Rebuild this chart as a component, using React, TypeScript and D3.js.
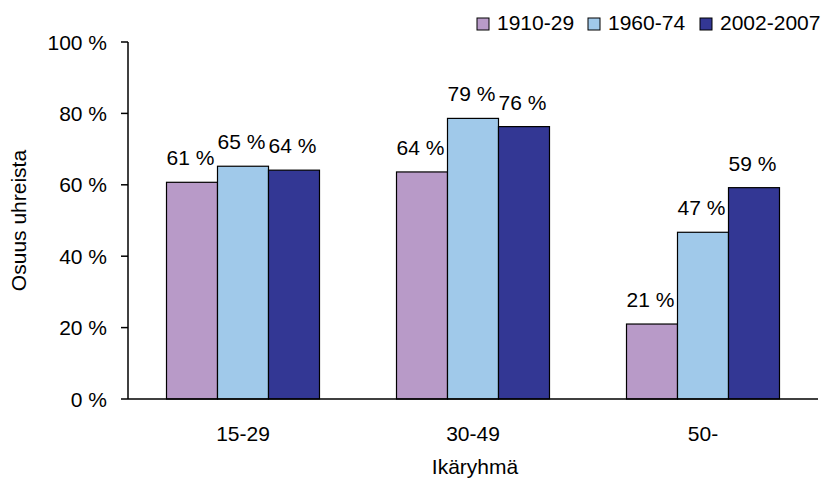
import React from "react";
import * as d3 from "d3";

const categories = ["15-29", "30-49", "50-"];
const seriesNames = ["1910-29", "1960-74", "2002-2007"];
const s1910 = [0.607, 0.636, 0.21];
const s1960 = [0.652, 0.786, 0.467];
const s2002 = [0.641, 0.763, 0.592];
const labels1910 = ["61 %", "64 %", "21 %"];
const labels1960 = ["65 %", "79 %", "47 %"];
const labels2002 = ["64 %", "76 %", "59 %"];
const yTicks = [0, 0.2, 0.4, 0.6, 0.8, 1.0];
const yTickLabels = ["0 %", "20 %", "40 %", "60 %", "80 %", "100 %"];
const colors = ["#B89AC8", "#A0C9EA", "#333794"];

const W = 825;
const H = 479;
const FONT = "'Liberation Sans', Arial, sans-serif";
const FS = 21;

export default function App() {
  const values = [s1910, s1960, s2002];
  const labs = [labels1910, labels1960, labels2002];
  const x0 = d3.scaleBand<string>().domain(categories).range([128, 818]).padding(0);
  const x1 = d3
    .scaleBand<string>()
    .domain(seriesNames)
    .range([0, x0.bandwidth()])
    .paddingInner(0)
    .paddingOuter(0.755);
  const y = d3.scaleLinear().domain([0, 1]).range([399, 42]);

  return (
    <svg
      width={W}
      height={H}
      style={{ position: "absolute", left: 0, top: 0, background: "#fff" }}
      fontFamily={FONT}
    >
      {categories.map((c, ci) => (
        <g key={c}>
          {seriesNames.map((s, si) => {
            const v = values[si][ci];
            const bx = (x0(c) as number) + (x1(s) as number);
            return (
              <g key={s}>
                <rect
                  x={bx}
                  y={y(v)}
                  width={x1.bandwidth()}
                  height={y(0) - y(v)}
                  fill={colors[si]}
                  stroke="#000"
                  strokeWidth={1.2}
                />
                <text
                  x={bx + x1.bandwidth() / 2 - 1.5}
                  y={y(v) - 17}
                  textAnchor="middle"
                  fontSize={FS}
                  fill="#000"
                >
                  {labs[si][ci]}
                </text>
              </g>
            );
          })}
        </g>
      ))}
      <line x1={128} x2={128} y1={y(1)} y2={y(0)} stroke="#000" strokeWidth={1.5} />
      {yTicks.map((t, i) => (
        <g key={t}>
          <line x1={121} x2={128} y1={y(t)} y2={y(t)} stroke="#000" strokeWidth={1.5} />
          <text x={107} y={y(t)} dy="0.36em" textAnchor="end" fontSize={FS}>
            {yTickLabels[i]}
          </text>
        </g>
      ))}
      <line x1={128} x2={818} y1={y(0)} y2={y(0)} stroke="#000" strokeWidth={1.5} />
      {categories.map((c) => (
        <text
          key={c}
          x={(x0(c) as number) + x0.bandwidth() / 2}
          y={441}
          textAnchor="middle"
          fontSize={FS}
        >
          {c}
        </text>
      ))}
      <text x={475} y={474} textAnchor="middle" fontSize={FS}>
        Ikäryhmä
      </text>
      <text
        transform={`translate(26, ${(y(0) + y(1)) / 2}) rotate(-90)`}
        textAnchor="middle"
        fontSize={FS}
      >
        Osuus uhreista
      </text>
      {(() => {
        const starts = [477, 588, 700];
        return seriesNames.map((s, i) => (
          <g key={s}>
            <rect x={starts[i]} y={18} width={12} height={12} fill={colors[i]} stroke="#000" strokeWidth={1} />
            <text x={starts[i] + 20} y={30} fontSize={FS}>
              {s}
            </text>
          </g>
        ));
      })()}
    </svg>
  );
}
